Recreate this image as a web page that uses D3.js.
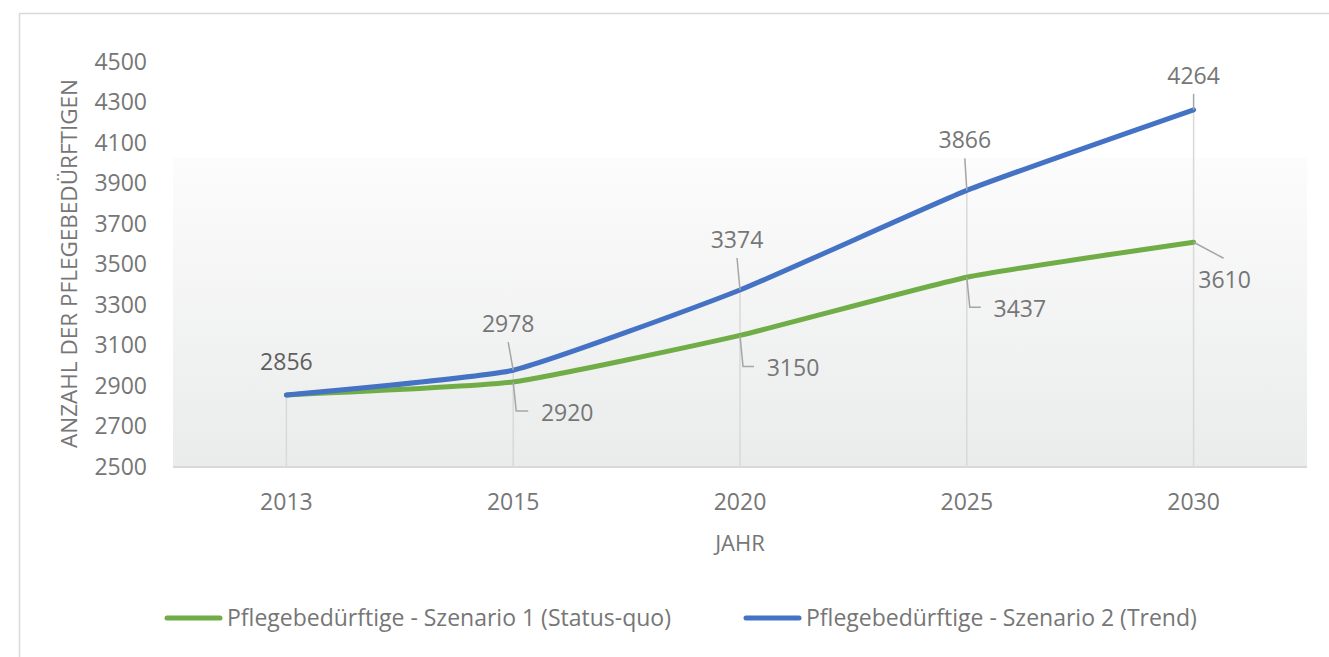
<!DOCTYPE html>
<html>
<head>
<meta charset="utf-8">
<script src="https://cdn.jsdelivr.net/npm/d3@7"></script>
<style>
  html, body { margin: 0; padding: 0; background: #fff; }
  svg { display: block; font-family: "Open Sans", sans-serif; }
</style>
</head>
<body>
<svg id="chart" width="1329" height="657"></svg>
<script>
// Jahre (Kategorien) und Werte der beiden Szenarien
const years = ["2013", "2015", "2020", "2025", "2030"];
const statusQuo = [2856, 2920, 3150, 3437, 3610];
const trend = [2856, 2978, 3374, 3866, 4264];
const yTicks = [2500, 2700, 2900, 3100, 3300, 3500, 3700, 3900, 4100, 4300, 4500];
const seriesNames = [
  "Pflegebedürftige - Szenario 1 (Status-quo)",
  "Pflegebedürftige - Szenario 2 (Trend)"
];

// Label placement relative to each point: offset of the label centre and leader style
const trendLabelLayout = [
  null,
  { dx: -5, dy: -46, leader: "straight" },
  { dx: -3, dy: -50, leader: "straight" },
  { dx: -2, dy: -50, leader: "straight" },
  { dx: 0, dy: -34, leader: "straight" }
];
const quoLabelLayout = [
  { dx: 0, dy: -33, leader: "none" },
  { dx: 54, dy: 31, leader: "elbow" },
  { dx: 53, dy: 33, leader: "elbow" },
  { dx: 53, dy: 32, leader: "elbow" },
  { dx: 31, dy: 38, leader: "diag" }
];

const svg = d3.select("#chart");
const W = 1329, H = 657;
const plot = { left: 173, right: 1307, top: 62, bottom: 467 };

const green = "#70ad47", blue = "#4472c4";
const textCol = "#767676";
const gridCol = "#d9d9d9";

// outer chart border
svg.append("rect")
  .attr("x", 19.5).attr("y", 13.5)
  .attr("width", W + 20).attr("height", H + 20)
  .attr("fill", "#fff").attr("stroke", "#d9d9d9").attr("stroke-width", 1.5);

const x = d3.scaleBand().domain(years).range([plot.left, plot.right]);
const y = d3.scaleLinear().domain([2500, 4500]).range([plot.bottom, plot.top]);
const cx = d => x(d) + x.bandwidth() / 2;

// plot area gradient fill
const defs = svg.append("defs");
const grad = defs.append("linearGradient").attr("id", "plotFill")
  .attr("x1", 0).attr("y1", 0).attr("x2", 0).attr("y2", 1);
grad.append("stop").attr("offset", "0%").attr("stop-color", "#fcfcfc");
grad.append("stop").attr("offset", "100%").attr("stop-color", "#eaebeb");

const gradTop = plot.top + (plot.bottom - plot.top) * 0.237;
svg.append("rect")
  .attr("x", plot.left).attr("y", gradTop)
  .attr("width", plot.right - plot.left).attr("height", plot.bottom - gradTop)
  .attr("fill", "url(#plotFill)");

// y axis labels
const yAxis = d3.axisLeft(y).tickValues(yTicks).tickFormat(d3.format("d"))
  .tickSize(0).tickPadding(0);
const gy = svg.append("g").attr("transform", `translate(147,0)`).call(yAxis);
gy.select(".domain").remove();
gy.selectAll("text")
  .attr("fill", textCol).attr("font-size", 23).attr("font-family", "Open Sans");

// x axis
const xAxis = d3.axisBottom(x).tickSize(0).tickPadding(0);
const gx = svg.append("g").attr("transform", `translate(0,${plot.bottom})`).call(xAxis);
gx.select(".domain").attr("stroke", gridCol).attr("stroke-width", 2)
  .attr("d", `M${plot.left},0H${plot.right}`);
gx.selectAll("text")
  .attr("fill", textCol).attr("font-size", 23).attr("font-family", "Open Sans")
  .attr("dy", null).attr("y", 43);

// axis titles
svg.append("text")
  .attr("x", cx("2020")).attr("y", 551)
  .attr("text-anchor", "middle").attr("fill", textCol).attr("font-size", 22)
  .text("JAHR");
svg.append("text")
  .attr("transform", `translate(77,${(plot.top + plot.bottom) / 2 - 1}) rotate(-90)`)
  .attr("text-anchor", "middle").attr("fill", textCol).attr("font-size", 22.5)
  .text("ANZAHL DER PFLEGEBEDÜRFTIGEN");

// drop lines from highest point down to axis
svg.append("g").selectAll("line")
  .data(years)
  .join("line")
  .attr("x1", d => cx(d)).attr("x2", d => cx(d))
  .attr("y1", (d, i) => y(Math.max(statusQuo[i], trend[i])))
  .attr("y2", plot.bottom)
  .attr("stroke", gridCol).attr("stroke-width", 1.5);

// series lines
const line = d3.line()
  .x(d => cx(d.year))
  .y(d => y(d.v))
  .curve(d3.curveCardinal.tension(0.55));

const mk = arr => arr.map((v, i) => ({ year: years[i], v }));

svg.append("path").datum(mk(statusQuo))
  .attr("d", line).attr("fill", "none")
  .attr("stroke", green).attr("stroke-width", 5).attr("stroke-linecap", "round");
svg.append("path").datum(mk(trend))
  .attr("d", line).attr("fill", "none")
  .attr("stroke", blue).attr("stroke-width", 5).attr("stroke-linecap", "round");

// data labels with leader lines
const leaderCol = "#a6a6a6";
function drawLabels(values, layout) {
  const g = svg.append("g");
  values.forEach((v, i) => {
    const L = layout[i];
    if (!L) return;
    const px = cx(years[i]), py = y(v);
    const lx = px + L.dx, ly = py + L.dy;
    if (L.leader === "straight") {
      g.append("line")
        .attr("x1", lx).attr("y1", ly + 18)
        .attr("x2", px).attr("y2", py)
        .attr("stroke", leaderCol).attr("stroke-width", 1.5);
    } else if (L.leader === "elbow") {
      const ey = ly - 2;
      g.append("path")
        .attr("d", `M${px},${py}L${px + 3},${ey}H${lx - 39}`)
        .attr("fill", "none").attr("stroke", leaderCol).attr("stroke-width", 1.5);
    } else if (L.leader === "diag") {
      g.append("line")
        .attr("x1", px).attr("y1", py)
        .attr("x2", px + 30).attr("y2", py + 16)
        .attr("stroke", leaderCol).attr("stroke-width", 1.5);
    }
    g.append("text")
      .attr("x", lx).attr("y", ly)
      .attr("dy", "0.35em")
      .attr("text-anchor", "middle")
      .attr("fill", i === 0 ? "#5f5f5f" : textCol)
      .attr("font-size", 23)
      .text(v);
  });
}
drawLabels(trend, trendLabelLayout);
drawLabels(statusQuo, quoLabelLayout);

// legend
const legend = [
  { name: seriesNames[0], color: green, x: 165 },
  { name: seriesNames[1], color: blue, x: 744 }
];
const lg = svg.append("g");
legend.forEach(d => {
  lg.append("line")
    .attr("x1", d.x + 2).attr("x2", d.x + 55)
    .attr("y1", 618).attr("y2", 618)
    .attr("stroke", d.color).attr("stroke-width", 5).attr("stroke-linecap", "round");
  lg.append("text")
    .attr("x", d.x + 62).attr("y", 618).attr("dy", "0.35em")
    .attr("fill", textCol).attr("font-size", 23)
    .text(d.name);
});
</script>
</body>
</html>
